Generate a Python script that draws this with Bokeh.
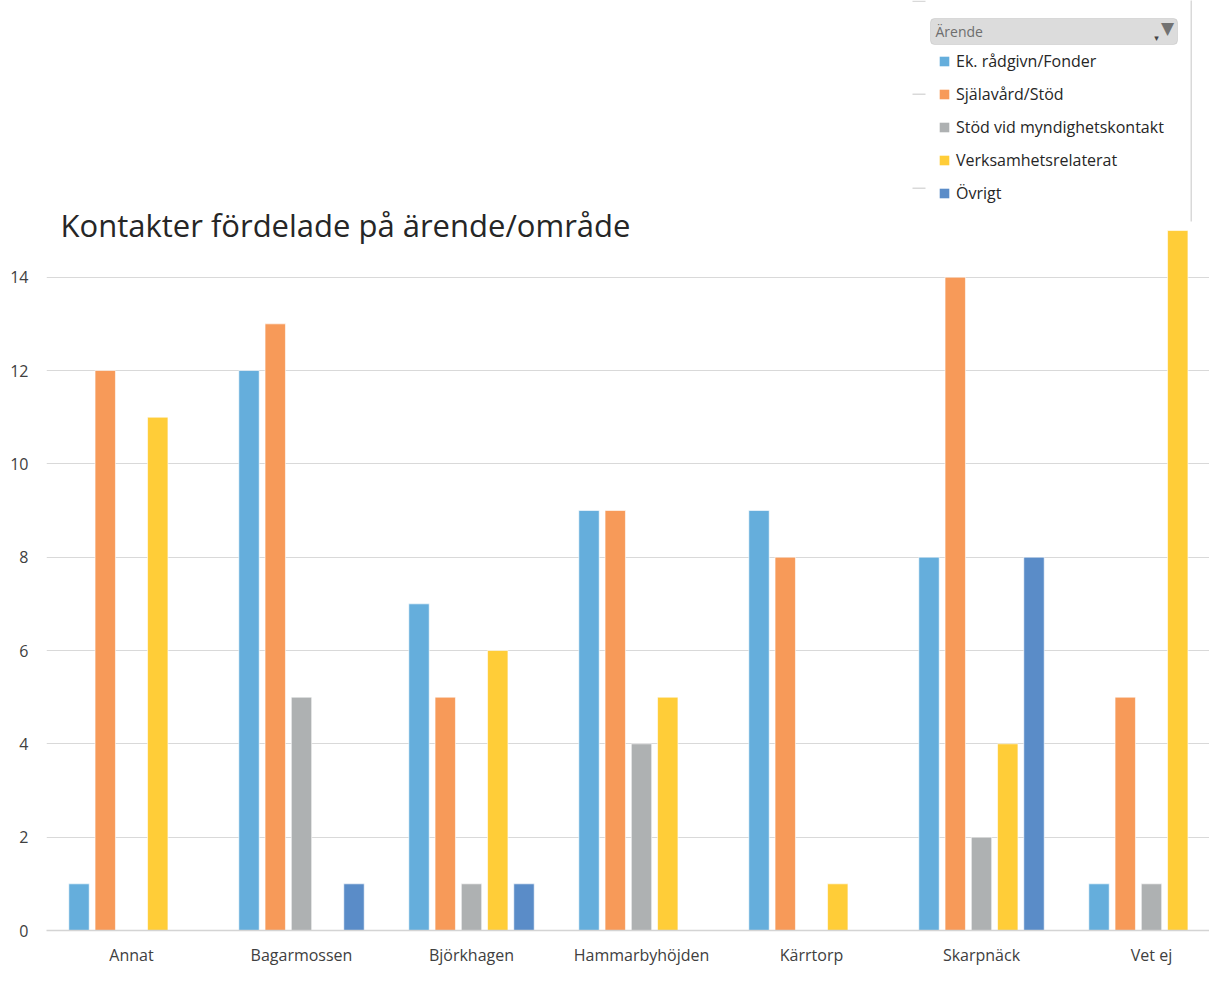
import numpy as np
from bokeh.plotting import figure
from bokeh.models import (ColumnDataSource, Range1d, FixedTicker, Label, Legend,
                          LegendItem, BoxAnnotation)
from bokeh.transform import dodge
from bokeh.embed import file_html
from bokeh.resources import INLINE

# ---------------- data ----------------
categories = ["Annat", "Bagarmossen", "Björkhagen", "Hammarbyhöjden",
              "Kärrtorp", "Skarpnäck", "Vet ej"]
series = ["Ek. rådgivn/Fonder", "Själavård/Stöd", "Stöd vid myndighetskontakt",
          "Verksamhetsrelaterat", "Övrigt"]
ek_radgivn = [1, 12, 7, 9, 9, 8, 1]
sjalavard = [12, 13, 5, 9, 8, 14, 5]
stod_myndighet = [0, 5, 1, 4, 0, 2, 1]
verksamhet = [11, 0, 6, 5, 1, 4, 15]
ovrigt = [0, 1, 1, 0, 0, 8, 0]
y_ticks = [0, 2, 4, 6, 8, 10, 12, 14]
title_text = "Kontakter fördelade på ärende/område"
legend_title = "Ärende"

colors = ["#65AEDC", "#F79A59", "#AEB1B2", "#FFCD38", "#5A8CC8"]
values = [ek_radgivn, sjalavard, stod_myndighet, verksamhet, ovrigt]

# ---------------- layout ----------------
W, H = 1209, 968
LEFT, BOTTOM = 46, 37
frame_w = W - LEFT
frame_h = H - BOTTOM
px_per_cat = 170.0
px_per_unit = 654.0 / 14.0
x_start = -0.5
x_end = x_start + frame_w / px_per_cat
y_end = frame_h / px_per_unit

cols = ["s%d" % i for i in range(len(series))]
data = {"x": np.arange(len(categories))}
for c, v in zip(cols, values):
    arr = np.array(v, dtype=float)
    arr[arr == 0] = np.nan
    data[c] = arr
src = ColumnDataSource(data)

p = figure(width=W, height=H, x_range=Range1d(x_start, x_end),
           y_range=Range1d(0, y_end), output_backend="svg",
           toolbar_location=None, min_border_left=LEFT, min_border_right=0,
           min_border_top=0, min_border_bottom=BOTTOM)
p.outline_line_color = None
p.background_fill_color = "white"

# axes
p.yaxis.ticker = FixedTicker(ticks=y_ticks)
p.yaxis.axis_line_color = None
p.yaxis.major_tick_line_color = None
p.yaxis.minor_tick_line_color = None
p.yaxis.major_tick_out = 0
p.yaxis.major_label_standoff = 18
p.yaxis.major_label_text_font = "Open Sans"
p.yaxis.major_label_text_font_size = "16px"
p.yaxis.major_label_text_color = "#404040"

p.xaxis.ticker = FixedTicker(ticks=list(range(len(categories))))
p.xaxis.major_label_overrides = {i: c for i, c in enumerate(categories)}
p.xaxis.axis_line_color = "#D4D4D4"
p.xaxis.axis_line_width = 1.5
p.xaxis.major_tick_line_color = None
p.xaxis.minor_tick_line_color = None
p.xaxis.major_tick_out = 0
p.xaxis.major_label_standoff = 13
p.xaxis.major_label_text_font = "Open Sans"
p.xaxis.major_label_text_font_size = "16px"
p.xaxis.major_label_text_color = "#404040"

p.xgrid.visible = False
p.ygrid.ticker = FixedTicker(ticks=y_ticks)
p.ygrid.grid_line_color = "#D9D9D9"
p.ygrid.grid_line_width = 1

# bars
pitch = 0.1544
for i, c in enumerate(cols):
    p.vbar(x=dodge("x", (i - 2) * pitch, range=p.x_range), top=c, width=0.12,
           source=src, fill_color=colors[i], line_color="white",
           line_alpha=0.6, line_width=1)

# legend (pivot-chart style, top right)
legend_items = []
for i, s in enumerate(series):
    r = p.scatter(x=[np.nan], y=[np.nan], marker="square",
                  fill_color=colors[i], line_color=None)
    legend_items.append(LegendItem(label=s, renderers=[r]))

legend = Legend(items=legend_items, location=(886, 725),
                orientation="vertical", glyph_width=24, glyph_height=24,
                label_height=24, label_standoff=-2, spacing=9, padding=0,
                margin=0, border_line_color=None, background_fill_alpha=0,
                label_text_font="Open Sans", label_text_font_size="16px",
                label_text_color="#262626")

# decorations of the filter panel
p.add_layout(BoxAnnotation(left=884, right=1131, top=912, bottom=886,
                           left_units="screen", right_units="screen",
                           top_units="screen", bottom_units="screen",
                           fill_color="#DCDCDC", fill_alpha=1,
                           line_color="#A8A8A8", line_width=1,
                           border_radius=4))
for yy in (929, 836, 742):
    p.add_layout(BoxAnnotation(left=866, right=879, top=yy + 1, bottom=yy - 0.5,
                               left_units="screen", right_units="screen",
                               top_units="screen", bottom_units="screen",
                               fill_color="#D9D9D9", fill_alpha=1,
                               line_color=None))
p.add_layout(BoxAnnotation(left=1144, right=1145.5, top=frame_h, bottom=709,
                           left_units="screen", right_units="screen",
                           top_units="screen", bottom_units="screen",
                           fill_color="#D9D9D9", fill_alpha=1, line_color=None))
p.add_layout(Label(x=889, y=899, x_units="screen", y_units="screen",
                   text=legend_title, text_font="Open Sans",
                   text_font_size="14px", text_color="#6E6E6E",
                   text_baseline="middle"))
p.add_layout(Label(x=1121, y=903, x_units="screen", y_units="screen",
                   text="▼", text_font="DejaVu Sans", text_font_size="17px",
                   text_color="#727272", text_baseline="middle",
                   text_align="center"))
p.add_layout(Label(x=1110, y=893, x_units="screen", y_units="screen",
                   text="▾", text_font="DejaVu Sans", text_font_size="9px",
                   text_color="#444444", text_baseline="middle",
                   text_align="center"))
p.add_layout(legend)

# title
p.add_layout(Label(x=14, y=706, x_units="screen", y_units="screen",
                   text=title_text, text_font="Open Sans",
                   text_font_size="31px", text_color="#262626",
                   text_baseline="alphabetic"))

open("out.html", "w").write(file_html(p, INLINE))
